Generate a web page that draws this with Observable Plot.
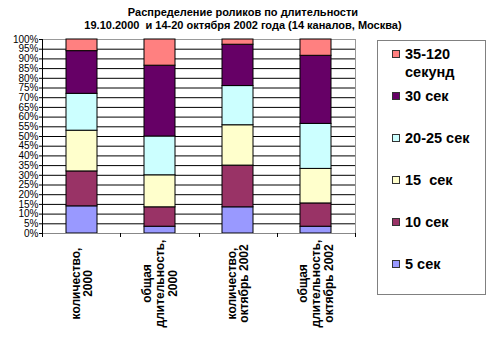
<!DOCTYPE html>
<html><head><meta charset="utf-8">
<script src="https://cdn.jsdelivr.net/npm/d3@7"></script>
<script src="https://cdn.jsdelivr.net/npm/@observablehq/plot@0.6"></script>
<style>
body{margin:0;background:#fff;font-family:Arial,"Liberation Sans",sans-serif;}
#wrap{position:relative;width:500px;height:338px;overflow:hidden;}
#title{position:absolute;left:0;top:6px;width:486px;text-align:center;font-weight:bold;font-size:11px;line-height:13px;color:#000;}
#legend{position:absolute;left:377px;top:40px;width:109px;height:255px;border:1px solid #808080;box-sizing:border-box;}
.item{position:absolute;left:14px;font-weight:bold;font-size:14.5px;line-height:18px;color:#000;white-space:nowrap;}
.sw{position:absolute;left:0;top:5px;width:8px;height:8px;border:1px solid #333;box-sizing:border-box;}
.lab{margin-left:13px;}
#chart{position:absolute;left:0;top:0;}
</style>
</head><body>
<div id="wrap">
  <div id="chart"></div>
  <div id="title">Распределение роликов по длительности<br>19.10.2000&nbsp; и 14-20 октября 2002 года (14 каналов, Москва)</div>
  <div id="legend"></div>
</div>
<script>
const categories = ["количество,\n2000", "общая\nдлительность,\n2000", "количество,\nоктябрь 2002", "общая\nдлительность,\nоктябрь 2002"];
const series = ["5 сек", "10 сек", "15  сек", "20-25 сек", "30 сек", "35-120 секунд"];
const legendLabels = ["5 сек", "10 сек", "15&nbsp; сек", "20-25 сек", "30 сек", "35-120<br>секунд"];
const colors = ["#9999FF", "#993366", "#FFFFCC", "#CCFFFF", "#660066", "#FF8080"];
const sec5 = [14, 3.5, 13.5, 3.5];
const sec10 = [18, 10, 21.5, 12];
const sec15 = [21, 16.5, 20.8, 17.8];
const sec2025 = [19, 20, 20.2, 23.2];
const sec30 = [22, 36.5, 21.3, 35.1];
const sec35120 = [6, 13.5, 2.7, 8.4];
const yTicks = d3.range(0, 101, 5);

const seriesValues = [sec5, sec10, sec15, sec2025, sec30, sec35120];
const data = [];
series.forEach((s, si) => categories.forEach((c, ci) => data.push({cat: c, series: s, value: seriesValues[si][ci]})));

const frameDecor = (index, scales, values, dims) => {
  const {width, height, marginLeft: l, marginRight: r, marginTop: t, marginBottom: b} = dims;
  const x2 = width - r, y2 = height - b;
  const g = d3.create("svg:g");
  g.append("line").attr("x1", x2 + 0.5).attr("x2", x2 + 0.5).attr("y1", t).attr("y2", y2).attr("stroke", "#999");
  g.append("line").attr("x1", l).attr("x2", x2).attr("y1", y2 + 0.5).attr("y2", y2 + 0.5).attr("stroke", "#888");
  g.append("line").attr("x1", l + 0.5).attr("x2", l + 0.5).attr("y1", t).attr("y2", y2).attr("stroke", "#000");
  const n = categories.length;
  for (let i = 0; i <= n; i++) {
    const x = Math.round(l + i * (x2 - l) / n) + 0.5;
    g.append("line").attr("x1", x).attr("x2", x).attr("y1", y2).attr("y2", y2 + 4).attr("stroke", "#000");
  }
  return g.node();
};

const plot = Plot.plot({
  width: 500,
  height: 338,
  marginLeft: 42,
  marginRight: 145,
  marginTop: 39,
  marginBottom: 105,
  style: {fontFamily: "Arial, 'Liberation Sans', sans-serif", fontSize: "10px", color: "#000", background: "#fff"},
  x: {domain: categories, paddingInner: 0.6, paddingOuter: 0.3, axis: null},
  y: {domain: [0, 100], axis: null},
  color: {domain: series, range: colors},
  marks: [
    Plot.ruleY(yTicks.filter(d => d > 0 && d < 100), {stroke: "#000"}),
    Plot.ruleY([100], {stroke: "#999"}),
    Plot.barY(data, {x: "cat", y: "value", fill: "series", stroke: "#000", strokeWidth: 1}),
    Plot.axisY({ticks: yTicks, label: null, tickSize: 3, tickPadding: 1, tickFormat: d => d + "%", fontSize: 10}),
    frameDecor,
    Plot.text(categories, {x: d => d, frameAnchor: "bottom", dy: 50, rotate: -90, textAnchor: "middle", lineAnchor: "middle", lineHeight: 1.05, fontWeight: "bold", fontSize: 12, fill: "#000"})
  ]
});
document.getElementById("chart").appendChild(plot);

const legend = document.getElementById("legend");
for (let k = 0; k < series.length; k++) {
  const i = series.length - 1 - k;
  const item = document.createElement("div");
  item.className = "item";
  item.style.top = (13 + 42 * k - 9) + "px";
  item.innerHTML = `<div class="sw" style="background:${colors[i]}"></div><div class="lab">${legendLabels[i]}</div>`;
  legend.appendChild(item);
}
</script>
</body></html>
